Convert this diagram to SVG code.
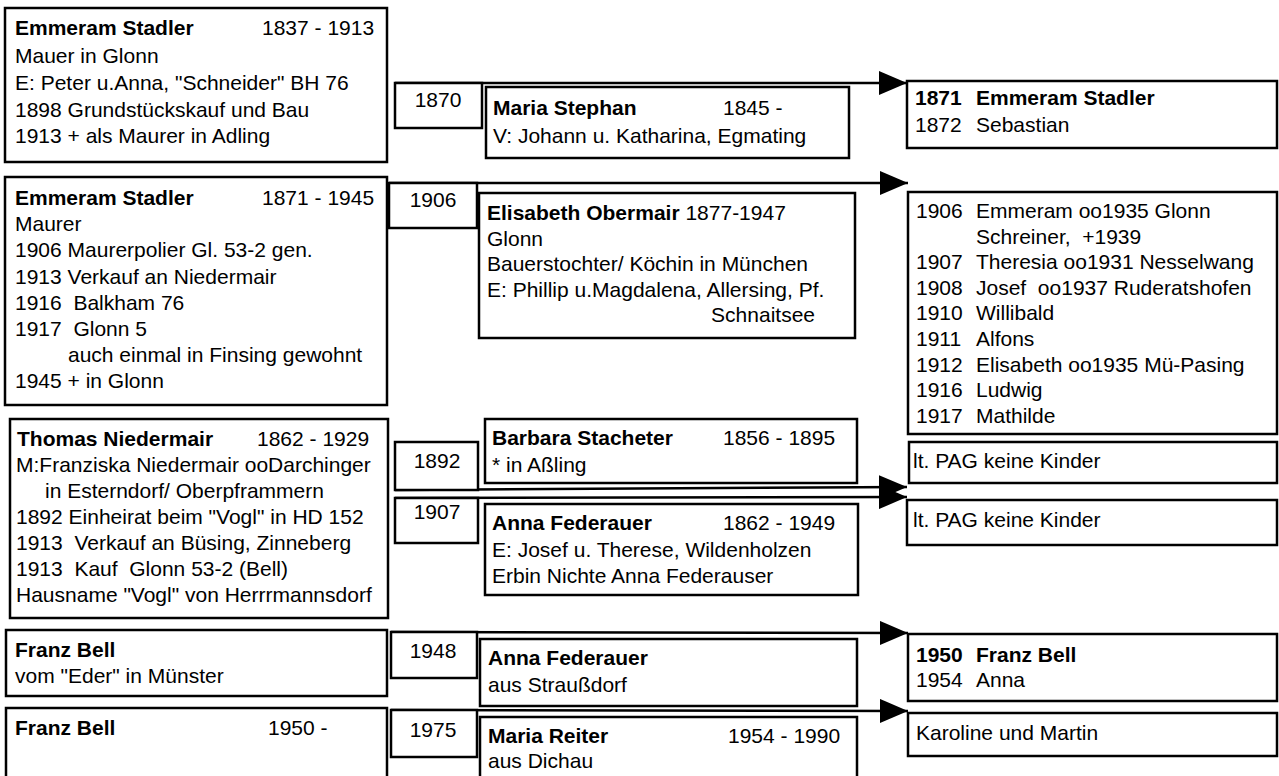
<svg xmlns="http://www.w3.org/2000/svg" width="1279" height="776" viewBox="0 0 1279 776">
<style>
.box{fill:#fff;stroke:#000;stroke-width:2.5}
text{font-family:"Liberation Sans",Arial,sans-serif;font-size:21px;fill:#000;white-space:pre}
.b{font-weight:bold}
.c{text-anchor:middle}
.e{text-anchor:end}
.ln{stroke:#000;stroke-width:2.5;fill:none;marker-end:url(#ah)}
</style>
<defs>
<marker id="ah" markerUnits="userSpaceOnUse" markerWidth="28" markerHeight="24" refX="28" refY="12" orient="auto">
<path d="M0,0 L28,12 L0,24 z" fill="#000"/>
</marker>
</defs>
<rect width="1279" height="776" fill="#fff"/>
<g id="connectors">
<line class="ln" x1="395" y1="83" x2="907" y2="83"/>
<line class="ln" x1="389" y1="183" x2="908" y2="183"/>
<line class="ln" x1="395" y1="490" x2="907" y2="487"/>
<line class="ln" x1="395" y1="498" x2="907" y2="497"/>
<line class="ln" x1="391" y1="632" x2="908" y2="633"/>
<line class="ln" x1="391" y1="710" x2="908" y2="711"/>
</g>
<g id="n-emmeram1837">
<rect class="box" x="5" y="8" width="382" height="154"/>
<text x="15" y="35" class="b">Emmeram Stadler</text>
<text x="262" y="35">1837 - 1913</text>
<text x="15" y="63">Mauer in Glonn</text>
<text x="15" y="90">E: Peter u.Anna, "Schneider" BH 76</text>
<text x="15" y="117">1898 Grundstückskauf und Bau</text>
<text x="15" y="143">1913 + als Maurer in Adling</text>
</g>
<g id="n-y1870">
<rect class="box" x="395" y="83" width="87" height="45"/>
<text x="438" y="107" class="c">1870</text>
</g>
<g id="n-maria-stephan">
<rect class="box" x="486" y="87" width="363" height="71"/>
<text x="493" y="115" class="b">Maria Stephan</text>
<text x="723" y="115">1845 -</text>
<text x="493" y="143">V: Johann u. Katharina, Egmating</text>
</g>
<g id="n-kids1871">
<rect class="box" x="907" y="81" width="370" height="67"/>
<text x="915" y="105" class="b">1871<tspan x="976">Emmeram Stadler</tspan></text>
<text x="915" y="132">1872<tspan x="976">Sebastian</tspan></text>
</g>
<g id="n-emmeram1871">
<rect class="box" x="5" y="177" width="382" height="228"/>
<text x="15" y="205" class="b">Emmeram Stadler</text>
<text x="262" y="205">1871 - 1945</text>
<text x="15" y="231">Maurer</text>
<text x="15" y="257">1906 Maurerpolier Gl. 53-2 gen.</text>
<text x="15" y="284">1913 Verkauf an Niedermair</text>
<text x="15" y="310">1916  Balkham 76</text>
<text x="15" y="336">1917  Glonn 5</text>
<text x="68" y="362">auch einmal in Finsing gewohnt</text>
<text x="15" y="388">1945 + in Glonn</text>
</g>
<g id="n-y1906">
<rect class="box" x="389" y="183" width="88" height="45"/>
<text x="433" y="207" class="c">1906</text>
</g>
<g id="n-elisabeth">
<rect class="box" x="479" y="193" width="376" height="145"/>
<text x="487" y="220"><tspan class="b">Elisabeth Obermair</tspan> 1877-1947</text>
<text x="487" y="245.5">Glonn</text>
<text x="487" y="271">Bauerstochter/ Köchin in München</text>
<text x="487" y="296.5">E: Phillip u.Magdalena, Allersing, Pf.</text>
<text x="815" y="322" class="e">Schnaitsee</text>
</g>
<g id="n-kids1906">
<rect class="box" x="908" y="192" width="369" height="242"/>
<text x="916" y="218">1906<tspan x="976">Emmeram oo1935 Glonn</tspan></text>
<text x="976" y="243.6">Schreiner,  +1939</text>
<text x="916" y="269.2">1907<tspan x="976">Theresia oo1931 Nesselwang</tspan></text>
<text x="916" y="294.8">1908<tspan x="976">Josef  oo1937 Ruderatshofen</tspan></text>
<text x="916" y="320.4">1910<tspan x="976">Willibald</tspan></text>
<text x="916" y="346">1911<tspan x="976">Alfons</tspan></text>
<text x="916" y="371.6">1912<tspan x="976">Elisabeth oo1935 Mü-Pasing</tspan></text>
<text x="916" y="397.2">1916<tspan x="976">Ludwig</tspan></text>
<text x="916" y="422.8">1917<tspan x="976">Mathilde</tspan></text>
</g>
<g id="n-thomas">
<rect class="box" x="10" y="419" width="378" height="199"/>
<text x="17" y="446" class="b">Thomas Niedermair</text>
<text x="257" y="446">1862 - 1929</text>
<text x="16" y="472">M:Franziska Niedermair ooDarchinger</text>
<text x="45" y="498">in Esterndorf/ Oberpframmern</text>
<text x="16" y="524">1892 Einheirat beim "Vogl" in HD 152</text>
<text x="16" y="550">1913  Verkauf an Büsing, Zinneberg</text>
<text x="16" y="576">1913  Kauf  Glonn 53-2 (Bell)</text>
<text x="16" y="602">Hausname "Vogl" von Herrrmannsdorf</text>
</g>
<g id="n-y1892">
<rect class="box" x="395" y="442" width="83" height="48"/>
<text x="437" y="468" class="c">1892</text>
</g>
<g id="n-y1907">
<rect class="box" x="395" y="498" width="83" height="45"/>
<text x="437" y="519" class="c">1907</text>
</g>
<g id="n-barbara">
<rect class="box" x="485" y="419" width="372" height="64"/>
<text x="492" y="445" class="b">Barbara Stacheter</text>
<text x="723" y="445">1856 - 1895</text>
<text x="492" y="472">* in Aßling</text>
</g>
<g id="n-anna1">
<rect class="box" x="485" y="504" width="373" height="91"/>
<text x="492" y="530" class="b">Anna Federauer</text>
<text x="723" y="530">1862 - 1949</text>
<text x="492" y="557">E: Josef u. Therese, Wildenholzen</text>
<text x="492" y="583">Erbin Nichte Anna Federauser</text>
</g>
<g id="n-pag1">
<rect class="box" x="909" y="442" width="368" height="41"/>
<text x="913" y="468">lt. PAG keine Kinder</text>
</g>
<g id="n-pag2">
<rect class="box" x="907" y="500" width="370" height="45"/>
<text x="913" y="527">lt. PAG keine Kinder</text>
</g>
<g id="n-franz1">
<rect class="box" x="6" y="630" width="381" height="66"/>
<text x="15" y="657" class="b">Franz Bell</text>
<text x="15" y="683">vom "Eder" in Münster</text>
</g>
<g id="n-franz2">
<rect class="box" x="6" y="708" width="381" height="80"/>
<text x="15" y="735" class="b">Franz Bell</text>
<text x="268" y="735">1950 -</text>
</g>
<g id="n-y1948">
<rect class="box" x="391" y="632" width="86" height="46"/>
<text x="433" y="658" class="c">1948</text>
</g>
<g id="n-y1975">
<rect class="box" x="391" y="710" width="86" height="47"/>
<text x="433" y="737" class="c">1975</text>
</g>
<g id="n-anna2">
<rect class="box" x="480" y="639" width="377" height="67"/>
<text x="488" y="665" class="b">Anna Federauer</text>
<text x="488" y="692">aus Straußdorf</text>
</g>
<g id="n-maria-reiter">
<rect class="box" x="480" y="717" width="377" height="80"/>
<text x="488" y="743" class="b">Maria Reiter</text>
<text x="728" y="743">1954 - 1990</text>
<text x="488" y="768">aus Dichau</text>
</g>
<g id="n-kids1950">
<rect class="box" x="908" y="634" width="369" height="67"/>
<text x="916" y="662" class="b">1950<tspan x="976">Franz Bell</tspan></text>
<text x="916" y="687">1954<tspan x="976">Anna</tspan></text>
</g>
<g id="n-kids1975">
<rect class="box" x="908" y="713" width="369" height="43"/>
<text x="916" y="740">Karoline und Martin</text>
</g>
</svg>
